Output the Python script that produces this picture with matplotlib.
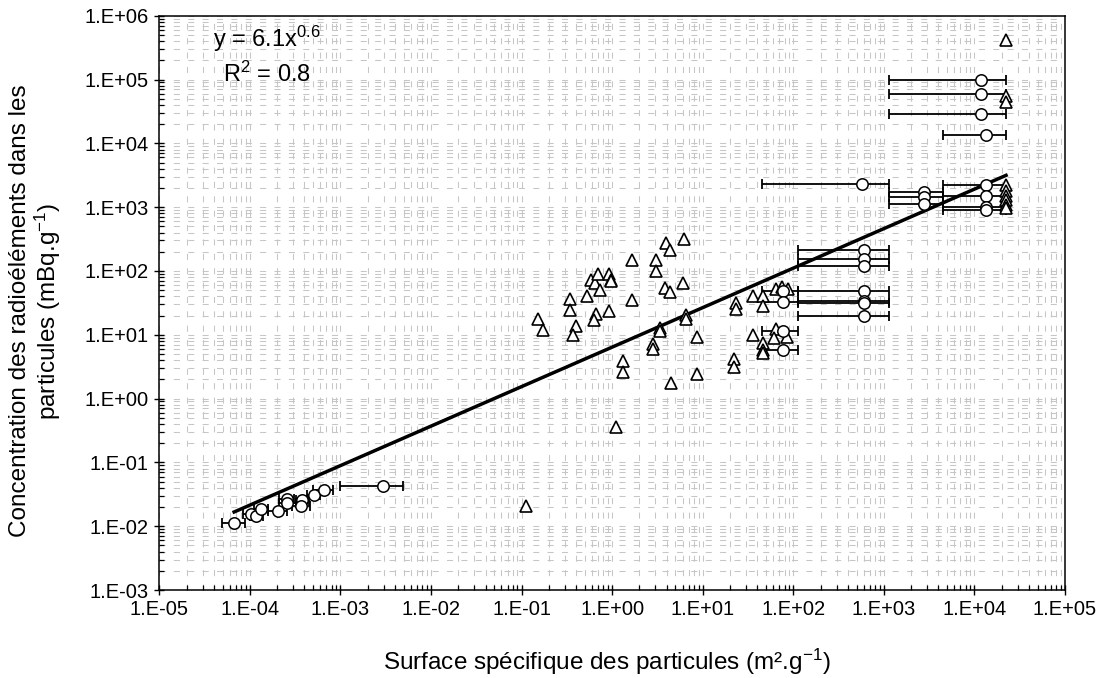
import numpy as np
import matplotlib
matplotlib.use('Agg')
import matplotlib.pyplot as plt
from matplotlib.ticker import LogLocator, FuncFormatter, NullFormatter

plt.rcParams['font.family'] = ['Liberation Sans', 'DejaVu Sans']
plt.rcParams['mathtext.default'] = 'regular'

# ---------------- data ----------------
# points without x-range (triangles)
tri_x = [0.151, 0.171, 0.341, 0.341, 0.404, 0.368, 0.530, 0.582, 0.649, 0.700,
         0.726, 0.661, 0.624, 0.912, 0.968, 0.968, 0.912, 1.66, 1.64, 1.31,
         1.31, 3.03, 3.03, 3.92, 4.30, 6.18, 3.88, 4.36, 6.08, 3.37,
         3.37, 2.86, 2.86, 4.41, 6.62, 6.50, 8.61, 8.61, 0.112, 1.10,
         23.6, 23.6, 36.0, 46.4, 46.4, 64.1, 76.0, 87.7, 36.0, 46.4,
         46.4, 46.4, 64.1, 61.0, 85.5, 22.2, 22.2,
         22340, 22340, 22340, 22340, 22340, 22340, 22340, 22340, 22340]
tri_y = [17.8, 12.0, 36.3, 24.0, 13.5, 9.75, 40.9, 71.0, 64.5, 90.4,
         50.7, 20.8, 16.8, 89.4, 72.8, 68.5, 23.2, 150, 35.4, 3.87,
         2.57, 150, 101, 274, 210, 320, 53.2, 47.2, 64.5, 12.7,
         11.3, 7.23, 5.97, 1.75, 20.6, 17.6, 9.2, 2.42, 0.0209, 0.36,
         31.4, 25.3, 39.8, 39.8, 28.5, 52.0, 55.9, 52.0, 10.0, 7.41,
         5.82, 5.16, 12.4, 8.88, 9.08, 4.16, 3.12,
         421000, 54300, 43700, 2244, 1762, 1473, 1305, 1091, 968]

# points with x-range (circles): value, lower and upper bound of x
circ_x = [6.7e-5, 1.03e-4, 1.17e-4, 1.33e-4, 2.06e-4, 2.55e-4, 2.6e-4, 3.79e-4,
          3.66e-4, 5.1e-4, 6.6e-4, 2.97e-3,
          77.6, 77.6, 77.6, 77.6,
          608, 608, 608, 608, 608, 608, 608,
          578,
          2800, 2800, 2800,
          13430, 13430, 13430, 13430, 13430,
          11830, 11830, 11830]
circ_y = [0.0112, 0.0155, 0.0146, 0.0185, 0.0176, 0.0266, 0.0235, 0.0253,
          0.0204, 0.0303, 0.0372, 0.043,
          47.7, 32.1, 11.3, 5.68,
          215, 155, 121, 47.7, 33.3, 31.4, 19.4,
          2328,
          1725, 1439, 1130,
          2244, 1510, 1004, 910, 13650,
          98200, 59300, 28800]
circ_xlo = [4.9e-5, 8.5e-5, 1.0e-4, 1.1e-4, 1.6e-4, 2.1e-4, 2.1e-4, 3.2e-4,
            2.9e-4, 4.3e-4, 5.0e-4, 9.9e-4,
            44.8, 44.8, 44.8, 48.8,
            112, 112, 112, 112, 112, 112, 112,
            44.8,
            1130, 1130, 1130,
            4467, 4467, 4467, 4467, 4467,
            1130, 1130, 1130]
circ_xhi = [8.8e-5, 1.19e-4, 1.4e-4, 1.6e-4, 2.55e-4, 3.1e-4, 3.2e-4, 4.5e-4,
            4.6e-4, 6.0e-4, 8.3e-4, 4.9e-3,
            112, 112, 112, 112,
            1140, 1140, 1140, 1140, 1140, 1140, 1140,
            1130,
            4467, 4467, 4467,
            22340, 22340, 22340, 22340, 22340,
            22340, 22340, 22340]

# power-law fit y = a * x^b
fit_a = 6.4
fit_b = 0.619
eq_line1 = 'y = 6.1x$^{0.6}$'
eq_line2 = 'R$^{2}$ = 0.8'

x_label = 'Surface spécifique des particules (m².g$^{-1}$)'
y_label = 'Concentration des radioéléments dans les\nparticules (mBq.g$^{-1}$)'
x_lim = (1e-5, 1e5)
y_lim = (1e-3, 1e6)

# ---------------- figure ----------------
W, H = 1102, 678
fig = plt.figure(figsize=(W / 100, H / 100), dpi=100)
L, R, T, B = 159.3, 1065, 15.7, 590
ax = fig.add_axes([L / W, 1 - B / H, (R - L) / W, (B - T) / H])
ax.set_xscale('log')
ax.set_yscale('log')
ax.set_xlim(*x_lim)
ax.set_ylim(*y_lim)

grid_kw = dict(color='#c6c6c6', linewidth=0.75, linestyle=(0, (5.8, 8.0)))
ax.grid(True, which='both', axis='both', **grid_kw)
ax.set_axisbelow(True)

cx = np.array(circ_x)
xerr = [cx - np.array(circ_xlo), np.array(circ_xhi) - cx]
ax.errorbar(circ_x, circ_y, xerr=xerr, fmt='none', ecolor='black',
            elinewidth=1.3, capsize=3.8, capthick=1.3, zorder=3)

# regression line across data range
all_x = np.array(circ_x + tri_x)
xf = np.logspace(np.log10(all_x.min()), np.log10(all_x.max()), 100)
ax.plot(xf, fit_a * xf ** fit_b, color='black', linewidth=2.5, zorder=4)

ax.plot(tri_x, tri_y, linestyle='none', marker='^', markersize=8.8,
        markerfacecolor='white', markeredgecolor='black', markeredgewidth=1.2, zorder=5)
ax.plot(circ_x, circ_y, linestyle='none', marker='o', markersize=8.2,
        markerfacecolor='white', markeredgecolor='black', markeredgewidth=1.1, zorder=6)

fmt = FuncFormatter(lambda v, p: '1.E%+03d' % int(round(np.log10(v))))
for axis in (ax.xaxis, ax.yaxis):
    axis.set_major_locator(LogLocator(base=10, numticks=20))
    axis.set_minor_locator(LogLocator(base=10, subs=np.arange(2, 10), numticks=20))
    axis.set_major_formatter(fmt)
    axis.set_minor_formatter(NullFormatter())

ax.tick_params(which='major', direction='inout', length=7, width=1.0,
               labelsize=14.5, pad=4, colors='black')
ax.tick_params(which='minor', direction='in', length=3.5, width=0.9)
ax.tick_params(top=False, right=False, which='both')
for s in ax.spines.values():
    s.set_linewidth(1.1)

fig.text(267 / W, 1 - 46.7 / H, eq_line1, ha='center', va='baseline', fontsize=17)
fig.text(267 / W, 1 - 82 / H, eq_line2, ha='center', va='baseline', fontsize=17)

fig.text(607 / W, 1 - 662 / H, x_label, ha='center', va='center', fontsize=17.5)
fig.text(36 / W, 1 - 311 / H, y_label, ha='center', va='center', rotation=90,
         multialignment='center', fontsize=17.5, linespacing=1.05)

fig.savefig('out.png', dpi=100)
